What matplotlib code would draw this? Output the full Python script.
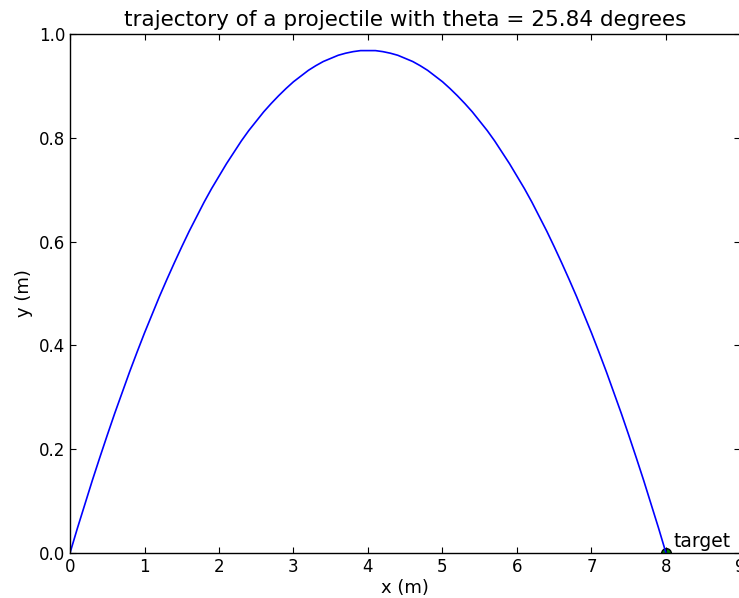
import matplotlib
matplotlib.use('Agg')
import matplotlib.pyplot as plt

# trajectory points (x in m, y in m), every 0.1 m
xs = [i / 10.0 for i in range(81)]
ys = [0.000, 0.048, 0.094, 0.140, 0.184, 0.227, 0.269, 0.309, 0.349, 0.387,
      0.424, 0.459, 0.494, 0.527, 0.559, 0.590, 0.620, 0.648, 0.676, 0.702,
      0.726, 0.750, 0.772, 0.794, 0.814, 0.832, 0.850, 0.866, 0.881, 0.895,
      0.908, 0.919, 0.930, 0.939, 0.947, 0.953, 0.959, 0.963, 0.966, 0.968,
      0.968,
      0.968, 0.966, 0.963, 0.959, 0.953, 0.947, 0.939, 0.930, 0.919, 0.908,
      0.895, 0.881, 0.866, 0.850, 0.832, 0.814, 0.794, 0.772, 0.750, 0.726,
      0.702, 0.676, 0.648, 0.620, 0.590, 0.559, 0.527, 0.494, 0.459, 0.424,
      0.387, 0.349, 0.309, 0.269, 0.227, 0.184, 0.140, 0.094, 0.048, 0.000]
target_x = 8.0
target_y = 0.0
theta = 25.84

plt.rcParams.update({'font.size': 12, 'xtick.direction': 'in', 'ytick.direction': 'in',
                     'xtick.top': True, 'ytick.right': True,
                     'xtick.major.size': 4, 'ytick.major.size': 4})

fig = plt.figure(figsize=(7.39, 5.98), dpi=100)
ax = fig.add_axes([70/739, 45/598, 670.5/739, 519/598])
ax.plot(xs, ys, color='blue', linewidth=1.2)
ax.plot([target_x], [target_y], 'o', color='green', markeredgecolor='black',
        markersize=7, clip_on=True, zorder=1)
ax.text(target_x + 0.1, target_y + 0.012, 'target', fontsize=13.5)
ax.set_xlim(0, 9)
ax.set_ylim(0, 1.0)
ax.set_xticks(range(0, 10))
ax.set_yticks([0.0, 0.2, 0.4, 0.6, 0.8, 1.0])
ax.set_xlabel('x (m)', labelpad=2, fontsize=13)
ax.set_ylabel('y (m)', fontsize=13)
ax.set_title('trajectory of a projectile with theta = %.2f degrees' % theta, fontsize=15.5)
for s in ax.spines.values():
    s.set_linewidth(1.0)

plt.savefig('out.png', dpi=100)
